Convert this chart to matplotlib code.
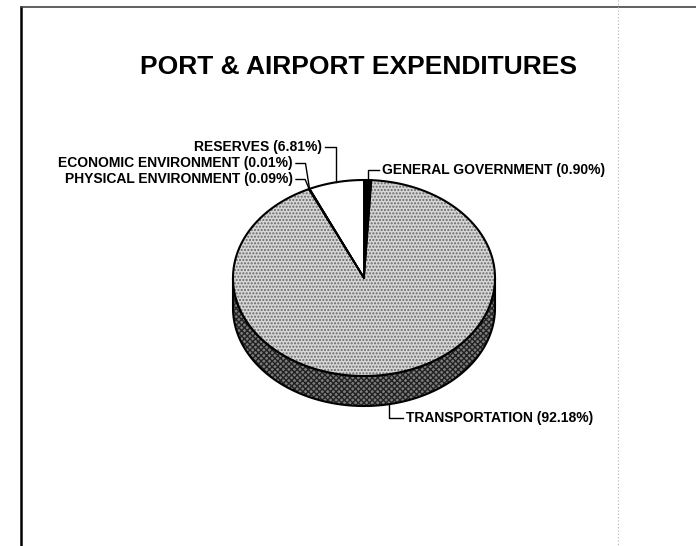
import numpy as np
import matplotlib
matplotlib.use("Agg")
import matplotlib.pyplot as plt
from matplotlib.patches import Polygon

# data (percent of port & airport expenditures), clockwise from 12 o'clock
categories = ["GENERAL GOVERNMENT", "TRANSPORTATION", "PHYSICAL ENVIRONMENT",
              "ECONOMIC ENVIRONMENT", "RESERVES"]
shares = [0.90, 92.18, 0.09, 0.01, 6.81]
labels = ["GENERAL GOVERNMENT (0.90%)", "TRANSPORTATION (92.18%)",
          "PHYSICAL ENVIRONMENT (0.09%)", "ECONOMIC ENVIRONMENT (0.01%)",
          "RESERVES (6.81%)"]

face_colors = ["#000000", "#d6d6d6", "#ffffff", "#ffffff", "#ffffff"]
side_colors = ["#000000", "#7c7c7c", "#ffffff", "#ffffff", "#ffffff"]

# label placement (pixels): x, y, alignment
label_pos = [(382, 170, "left"), (406, 418, "left"), (293, 179.5, "right"),
             (293, 163.5, "right"), (322, 147, "right")]

plt.rcParams["font.family"] = ["Liberation Sans", "DejaVu Sans"]

W, H = 696, 546
fig = plt.figure(figsize=(W / 100, H / 100), dpi=100)
ax = fig.add_axes([0, 0, 1, 1])
ax.set_xlim(0, W)
ax.set_ylim(H, 0)
ax.axis("off")

# page frame from the scan
ax.plot([21, 21], [7, H], color="black", lw=1.8)
ax.plot([21, W], [7, 7], color="#444444", lw=1.2)
ax.plot([618, 618], [0, H], color="#b0b0b0", lw=0.8, ls=(0, (1, 2)))

ax.text(358, 67, "PORT & AIRPORT EXPENDITURES", fontsize=19, fontweight="bold",
        ha="center", va="center")

cx, cy, rx, ry, depth = 364, 278, 131, 98, 30


def pt(t, dy=0.0):
    r = np.radians(t)
    return cx + rx * np.sin(r), cy - ry * np.cos(r) + dy


def arc(t0, t1, dy=0.0, n=None):
    n = n or max(2, int(abs(t1 - t0) * 2))
    ts = np.linspace(t0, t1, n)
    return [pt(t, dy) for t in ts]


bounds = np.concatenate([[0], np.cumsum(shares)]) / 100.0 * 360.0

# side wall (front half only: 90..270 deg clockwise from top)
for i in range(len(shares)):
    a0, a1 = max(bounds[i], 90), min(bounds[i + 1], 270)
    if a1 <= a0:
        continue
    verts = arc(a0, a1) + arc(a1, a0, depth)
    ax.add_patch(Polygon(verts, closed=True, facecolor=side_colors[i],
                         edgecolor="none", zorder=2))
    if side_colors[i] not in ("#000000", "#ffffff"):
        ax.add_patch(Polygon(verts, closed=True, facecolor="none",
                             edgecolor="#222222", lw=0, hatch="xxxxxx", zorder=2.1))

# side outline
side = arc(90, 270) + arc(270, 90, depth)
ax.add_patch(Polygon(side, closed=True, facecolor="none", edgecolor="black",
                     lw=1.5, zorder=3))

# top face wedges
for i in range(len(shares)):
    verts = [(cx, cy)] + arc(bounds[i], bounds[i + 1])
    ax.add_patch(Polygon(verts, closed=True, facecolor=face_colors[i],
                         edgecolor="none", zorder=4))
    if face_colors[i] not in ("#000000", "#ffffff"):
        ax.add_patch(Polygon(verts, closed=True, facecolor="none",
                             edgecolor="#666666", lw=0, hatch=".....", zorder=4.1))
    for b in (bounds[i], bounds[i + 1]):
        x, y = pt(b)
        ax.plot([cx, x], [cy, y], color="black", lw=1.2, zorder=5)

top = arc(0, 360, n=721)
ax.add_patch(Polygon(top, closed=True, facecolor="none", edgecolor="black",
                     lw=1.5, zorder=5))

# labels with leader lines
for i, lab in enumerate(labels):
    mid = (bounds[i] + bounds[i + 1]) / 2
    tx, ty, ha = label_pos[i]
    lower = 90 < mid < 270
    axx, axy = pt(mid, depth if lower else 0)
    if ha == "left":
        xs = [axx, axx, tx - 3]
        ys = [axy, ty, ty]
    else:
        xs = [axx, axx - (4 if i in (2, 3) else 0), tx + 3]
        ys = [axy, ty, ty]
    ax.plot(xs, ys, color="black", lw=1.0, zorder=6)
    ax.text(tx, ty, lab, fontsize=10, fontweight="bold", ha=ha, va="center",
            zorder=6)

fig.savefig("out.png", dpi=100)
